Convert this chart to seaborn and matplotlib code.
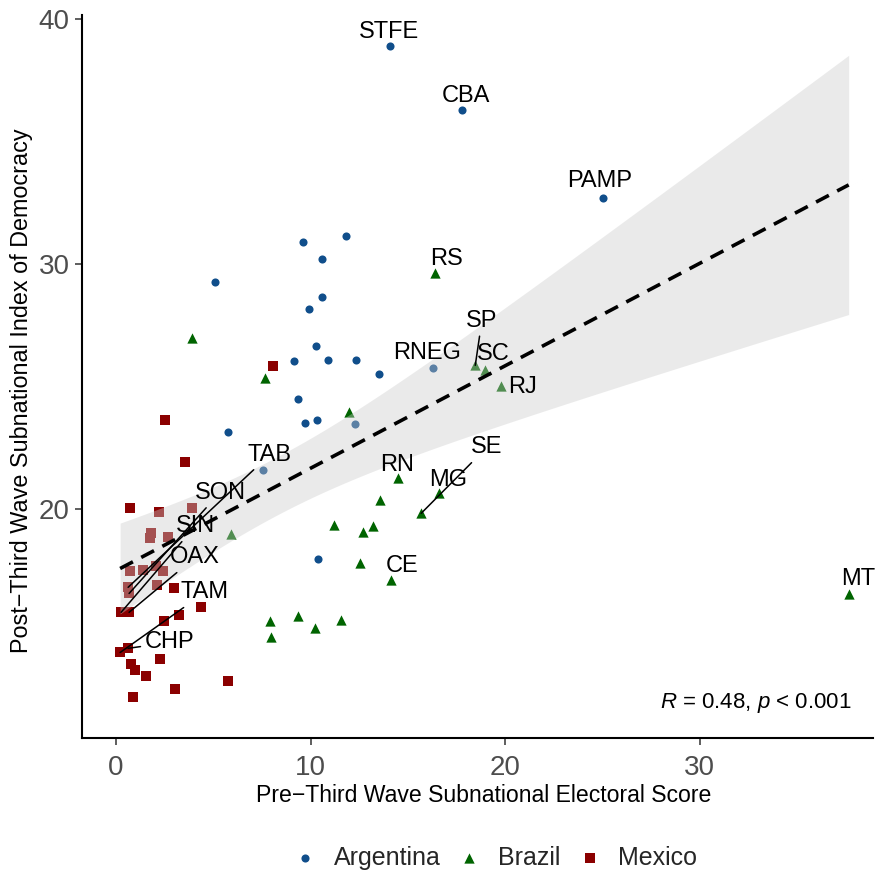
import numpy as np
import pandas as pd
import matplotlib
matplotlib.use("Agg")
import matplotlib.pyplot as plt
import seaborn as sns

# ---------------- data ----------------
arg_x = [14.09, 17.79, 25.04, 11.83, 9.61, 10.59, 5.09, 10.59, 9.92, 10.28, 9.15,
         10.90, 12.34, 13.52, 16.30, 9.36, 9.72, 10.33, 12.29, 5.76, 7.56, 10.39]
arg_y = [38.90, 36.29, 32.73, 31.14, 30.90, 30.24, 29.27, 28.69, 28.16, 26.69, 26.04,
         26.08, 26.08, 25.51, 25.76, 24.49, 23.52, 23.63, 23.47, 23.14, 21.59, 17.96]
arg_lab = ["STFE", "CBA", "PAMP", "", "", "", "", "", "", "", "",
           "", "", "", "RNEG", "", "", "", "", "", "", ""]

bra_x = [16.40, 3.91, 7.66, 18.46, 18.97, 19.79, 11.98, 5.91, 14.50, 13.57, 16.61,
         15.68, 11.21, 13.21, 12.70, 12.55, 14.14, 7.92, 9.36, 10.23, 11.57, 7.97, 37.65]
bra_y = [29.63, 26.98, 25.35, 25.88, 25.67, 25.02, 23.96, 18.98, 21.27, 20.37, 20.65,
         19.84, 19.35, 19.31, 19.06, 17.80, 17.10, 15.43, 15.63, 15.14, 15.47, 14.78, 16.53]
bra_lab = ["RS", "", "", "SP", "SC", "RJ", "", "", "RN", "", "MG",
           "SE", "", "", "", "", "CE", "", "", "", "", "", "MT"]

mex_x = [2.52, 3.55, 0.72, 2.21, 3.91, 1.80, 1.75, 2.67, 0.72, 1.39, 2.06, 2.42,
         0.62, 2.11, 2.98, 0.67, 0.26, 0.67, 2.47, 3.24, 4.37, 0.21, 0.62, 2.26,
         0.77, 0.98, 1.54, 3.03, 0.87, 5.76, 8.07]
mex_y = [23.63, 21.92, 20.04, 19.88, 20.04, 19.02, 18.82, 18.86, 17.47, 17.51, 17.67, 17.47,
         16.82, 16.90, 16.78, 16.57, 15.80, 15.80, 15.43, 15.71, 16.00, 14.16, 14.33, 13.88,
         13.71, 13.43, 13.22, 12.65, 12.33, 12.98, 25.84]
mex_lab = ["", "", "", "", "", "", "", "", "", "", "", "",
           "TAB", "", "", "SON", "SIN", "OAX", "", "", "", "TAM", "CHP", "",
           "", "", "", "", "", "", ""]

# label text anchor positions (data units) and whether a leader segment is drawn
label_pos = {
    "STFE": (14.02, 39.47, False), "CBA": (17.97, 36.86, False), "PAMP": (24.86, 33.39, False),
    "RNEG": (15.97, 26.37, False), "RS": (17.0, 30.24, False), "SP": (18.80, 27.71, True),
    "SC": (19.36, 26.33, False), "RJ": (20.90, 24.98, False), "RN": (14.43, 21.80, False),
    "MG": (17.05, 21.22, False), "SE": (19.05, 22.53, True), "CE": (14.69, 17.67, False),
    "MT": (38.12, 17.14, False), "TAB": (7.91, 22.24, True), "SON": (5.34, 20.69, True),
    "SIN": (4.06, 19.31, True), "OAX": (4.06, 18.04, True), "TAM": (4.57, 16.61, True),
    "CHP": (2.77, 14.57, True),
}

countries = ["Argentina", "Brazil", "Mexico"]
palette = {"Argentina": "#104E8B", "Brazil": "#006400", "Mexico": "#8B0000"}
markers = {"Argentina": "o", "Brazil": "^", "Mexico": "s"}
msizes = {"Argentina": 34, "Brazil": 55, "Mexico": 44}

df = pd.DataFrame({
    "x": arg_x + bra_x + mex_x,
    "y": arg_y + bra_y + mex_y,
    "country": ["Argentina"] * len(arg_x) + ["Brazil"] * len(bra_x) + ["Mexico"] * len(mex_x),
    "label": arg_lab + bra_lab + mex_lab,
})

# ---------------- style ----------------
sns.set_theme(style="white")
plt.rcParams["font.family"] = ["Liberation Sans", "DejaVu Sans"]
plt.rcParams["mathtext.fontset"] = "custom"
plt.rcParams["mathtext.it"] = "Liberation Sans:italic"
plt.rcParams["mathtext.rm"] = "Liberation Sans"

fig = plt.figure(figsize=(8.76, 8.76), dpi=100)
ax = fig.add_axes([82 / 876, 138 / 876, (873 - 82) / 876, (738 - 15) / 876])

for c in countries:
    sub = df[df["country"] == c]
    sns.scatterplot(data=sub, x="x", y="y", color=palette[c], marker=markers[c],
                    s=msizes[c], linewidth=0, ax=ax, zorder=2, label=c)

# regression line (seaborn) + analytic 95% confidence band
sns.regplot(data=df, x="x", y="y", scatter=False, ci=None, color="black", ax=ax,
            line_kws=dict(color="black", lw=2.6, dashes=(4, 2.6), zorder=4))
xv = df["x"].to_numpy()
yv = df["y"].to_numpy()
n = len(xv)
b1, b0 = np.polyfit(xv, yv, 1)
resid = yv - (b0 + b1 * xv)
s_err = np.sqrt(np.sum(resid ** 2) / (n - 2))
try:
    from scipy import stats
    tval = stats.t.ppf(0.975, n - 2)
except Exception:
    tval = 1.993
grid = np.linspace(xv.min(), xv.max(), 200)
se = s_err * np.sqrt(1.0 / n + (grid - xv.mean()) ** 2 / np.sum((xv - xv.mean()) ** 2))
fit = b0 + b1 * grid
ax.fill_between(grid, fit - tval * se, fit + tval * se, color="#CCCCCC", alpha=0.4,
                linewidth=0, zorder=3)

# labels
for _, r in df[df["label"] != ""].iterrows():
    tx, ty, seg = label_pos[r["label"]]
    if seg:
        ax.annotate(r["label"], xy=(r["x"], r["y"]), xytext=(tx, ty),
                    ha="center", va="center", fontsize=17, color="black", zorder=6,
                    arrowprops=dict(arrowstyle="-", color="black", lw=1.1,
                                    shrinkA=1, shrinkB=0))
    else:
        ax.text(tx, ty, r["label"], ha="center", va="center", fontsize=17,
                color="black", zorder=6)

ax.text(37.8, 12.08, r"$R$ = 0.48, $p$ < 0.001", ha="right", va="center",
        fontsize=16, color="black")

ax.set_xlim(-1.75, 38.9)
ax.set_ylim(10.67, 40.18)
ax.set_xticks([0, 10, 20, 30])
ax.set_yticks([20, 30, 40])
ax.tick_params(axis="both", length=5, width=1.1, color="#333333",
               labelsize=20, labelcolor="#4D4D4D", bottom=True, left=True)
ax.tick_params(axis="x", pad=7)
ax.tick_params(axis="y", pad=4)
for s in ["top", "right"]:
    ax.spines[s].set_visible(False)
for s in ["left", "bottom"]:
    ax.spines[s].set_color("black")
    ax.spines[s].set_linewidth(1.5)

ax.set_xlabel("Pre\u2212Third Wave Subnational Electoral Score", fontsize=16.6, color="black")
ax.set_ylabel("Post\u2212Third Wave Subnational Index of Democracy", fontsize=16.8, color="black")
ax.xaxis.set_label_coords(0.508, -0.064)
ax.yaxis.set_label_coords(-0.062, 0.48)

handles, labels = ax.get_legend_handles_labels()
if ax.legend_ is not None:
    ax.legend_.remove()
fig.legend(handles, labels, loc="center", bbox_to_anchor=(496 / 876, 18 / 876), ncol=3,
           frameon=False, fontsize=18, markerscale=1.0, handlelength=0.8,
           handletextpad=0.75, columnspacing=0.76)

fig.savefig("out.png", dpi=100)
